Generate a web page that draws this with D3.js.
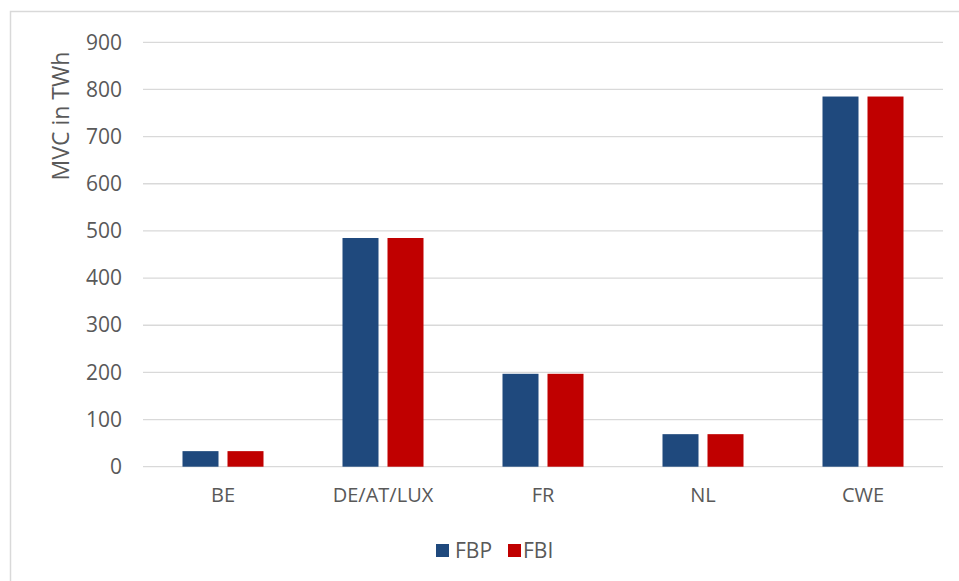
<!DOCTYPE html>
<html>
<head>
<meta charset="utf-8">
<script src="https://cdn.jsdelivr.net/npm/d3@7"></script>
<style>
  html, body { margin: 0; padding: 0; background: #ffffff; }
  svg { display: block; }
  text { font-family: "Open Sans", "Noto Sans", sans-serif; fill: #595959; }
</style>
</head>
<body>
<svg id="chart" width="959" height="581"></svg>
<script>
const categories = ["BE", "DE/AT/LUX", "FR", "NL", "CWE"];
const seriesNames = ["FBP", "FBI"];
const fbp = [33, 485, 197, 69, 785];
const fbi = [33, 485, 197, 69, 785];
const yTicks = [0, 100, 200, 300, 400, 500, 600, 700, 800, 900];
const colors = ["#1F497D", "#C00000"];
const yTitle = "MVC in TWh";

const svg = d3.select("#chart");

// outer chart border (partially out of frame)
svg.append("rect")
  .attr("x", 10.5).attr("y", 11.5)
  .attr("width", 1200).attr("height", 1200)
  .attr("fill", "none").attr("stroke", "#d9d9d9").attr("stroke-width", 1.5);

const plot = { left: 143, right: 943, top: 42.3, bottom: 466.7 };

const y = d3.scaleLinear().domain([0, 900]).range([plot.bottom, plot.top]);
const x0 = d3.scaleBand().domain(categories).range([plot.left, plot.right])
  .paddingInner(1 - 81 / 160).paddingOuter((1 - 81 / 160) / 2);
const x1 = d3.scaleBand().domain(seriesNames).range([0, x0.bandwidth()])
  .paddingInner(0.2).paddingOuter(0);

// gridlines
svg.append("g")
  .selectAll("line").data(yTicks).join("line")
  .attr("x1", plot.left).attr("x2", plot.right)
  .attr("y1", d => y(d)).attr("y2", d => y(d))
  .attr("stroke", "#d9d9d9").attr("stroke-width", 1.3);

// y axis labels
const yAxis = d3.axisLeft(y).tickValues(yTicks).tickSize(0).tickPadding(0);
const yg = svg.append("g").attr("transform", `translate(${plot.left - 21},0)`).call(yAxis);
yg.select(".domain").remove();
yg.selectAll("text")
  .style("font-family", '"Open Sans", "Noto Sans", sans-serif')
  .style("font-size", "21px").attr("fill", "#595959");

// x axis labels
const xAxis = d3.axisBottom(x0).tickSize(0).tickPadding(0);
const xg = svg.append("g").attr("transform", `translate(0,${plot.bottom + 21})`).call(xAxis);
xg.select(".domain").remove();
xg.selectAll("text")
  .style("font-family", '"Open Sans", "Noto Sans", sans-serif')
  .style("font-size", "20px").attr("fill", "#595959");

// bars
const data = categories.map((c, i) => ({ cat: c, vals: [fbp[i], fbi[i]] }));
const groups = svg.append("g").selectAll("g").data(data).join("g")
  .attr("transform", d => `translate(${x0(d.cat)},0)`);
groups.selectAll("rect")
  .data(d => d.vals.map((v, j) => ({ s: seriesNames[j], v, j })))
  .join("rect")
  .attr("x", d => x1(d.s))
  .attr("width", x1.bandwidth())
  .attr("y", d => y(d.v))
  .attr("height", d => y(0) - y(d.v))
  .attr("fill", d => colors[d.j]);

// y title
svg.append("text")
  .attr("transform", `translate(69,116) rotate(-90)`)
  .attr("text-anchor", "middle")
  .style("font-size", "23px")
  .text(yTitle);

// legend
const legendItems = [
  { name: seriesNames[0], color: colors[0], sx: 436, tx: 455 },
  { name: seriesNames[1], color: colors[1], sx: 508, tx: 523 }
];
const lg = svg.append("g");
lg.selectAll("rect").data(legendItems).join("rect")
  .attr("x", d => d.sx).attr("y", 544)
  .attr("width", 13).attr("height", 13)
  .attr("fill", d => d.color);
lg.selectAll("text").data(legendItems).join("text")
  .attr("x", d => d.tx).attr("y", 558)
  .style("font-size", "21px")
  .text(d => d.name);
</script>
</body>
</html>
